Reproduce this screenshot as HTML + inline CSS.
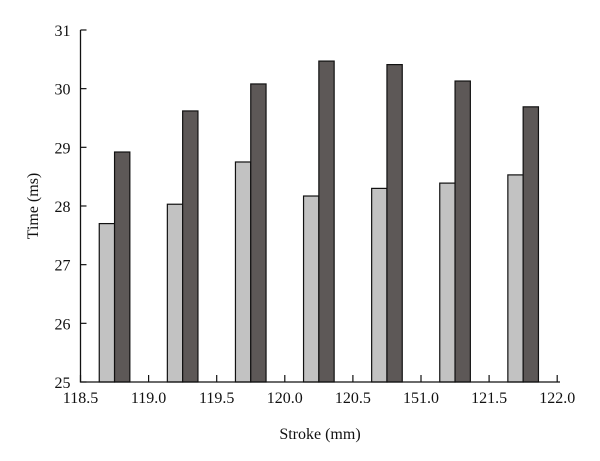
<!DOCTYPE html>
<html><head><meta charset="utf-8"><style>
body{margin:0;background:#fff;}
svg{display:block;font-family:"Liberation Serif",serif;}
</style></head><body>
<svg id="chart" width="600" height="461"></svg>
<script>
const categories=["118.75","119.25","119.75","120.25","120.75","121.25","121.75"];
const seriesLight=[27.7,28.03,28.75,28.17,28.3,28.39,28.53];
const seriesDark=[28.92,29.62,30.08,30.47,30.41,30.13,29.69];
const yTicks=[25,26,27,28,29,30,31];
const xTickLabels=["118.5","119.0","119.5","120.0","120.5","151.0","121.5","122.0"];
const NS="http://www.w3.org/2000/svg";
const svg=document.getElementById('chart');
const X0=80.5,Y0=382,DX=68.1,DY=58.67;
const xPos=i=>X0+i*DX; // tick index
const yPos=v=>Y0-(v-25)*DY;
function mk(t,a){const e=document.createElementNS(NS,t);for(const k in a)e.setAttribute(k,a[k]);svg.appendChild(e);return e;}
const bw=15.3;
categories.forEach((c,i)=>{
  const cx=xPos(i+0.5);
  let r=mk('rect',{x:cx-bw,y:yPos(seriesLight[i]),width:bw,height:Y0-yPos(seriesLight[i]),fill:'#c2c2c2',stroke:'#111','stroke-width':1.2});
  
  
  let d=mk('rect',{x:cx,y:yPos(seriesDark[i]),width:bw,height:Y0-yPos(seriesDark[i]),fill:'#5d5857',stroke:'#111','stroke-width':1.2});
  
  
});
let ax=mk('path',{d:`M${X0} ${yPos(31)}V${Y0}H560`,stroke:'#111',fill:'none','stroke-width':1.3});


yTicks.forEach(v=>{
  mk('line',{x1:X0,x2:X0+6,y1:yPos(v),y2:yPos(v),stroke:'#111','stroke-width':1.2});
  const t=mk('text',{x:X0-10,y:yPos(v)+6,'text-anchor':'end','font-size':16,fill:'#111'});
  t.textContent=v;
  
  
});
xTickLabels.forEach((s,i)=>{
  mk('line',{x1:xPos(i),x2:xPos(i),y1:Y0,y2:Y0-7,stroke:'#111','stroke-width':1.2});
  const t=mk('text',{x:xPos(i),y:Y0+21,'text-anchor':'middle','font-size':16,fill:'#111'});
  t.textContent=s;
  
  
});
const xt=mk('text',{x:320,y:439,'text-anchor':'middle','font-size':16,fill:'#111'});
xt.textContent='Stroke (mm)';


const yt=mk('text',{x:0,y:0,'text-anchor':'middle','font-size':16,fill:'#111',transform:'translate(38,206) rotate(-90)'});
yt.textContent='Time (ms)';


</script>
</body></html>
